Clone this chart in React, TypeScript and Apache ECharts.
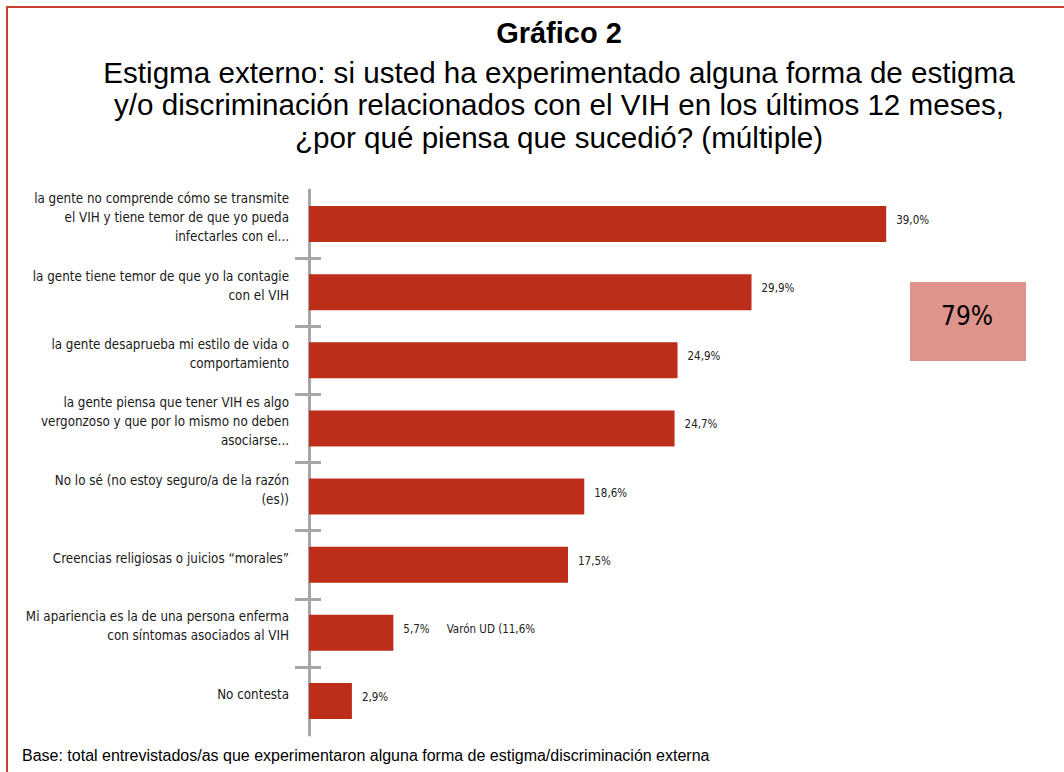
import React, { useEffect, useRef } from "react";
import * as echarts from "echarts";

const categories = [
  "la gente no comprende cómo se transmite\nel VIH y tiene temor de que yo pueda\ninfectarles con el...",
  "la gente tiene temor de que yo la contagie\ncon el VIH",
  "la gente desaprueba mi estilo de vida o\ncomportamiento",
  "la gente piensa que tener VIH es algo\nvergonzoso y que por lo mismo no deben\nasociarse...",
  "No lo sé (no estoy seguro/a de la razón\n(es))",
  "Creencias religiosas o juicios “morales”",
  "Mi apariencia es la de una persona enferma\ncon síntomas asociados al VIH",
  "No contesta",
];
const values = [39.0, 29.9, 24.9, 24.7, 18.6, 17.5, 5.7, 2.9];
const notes = ["", "", "", "", "", "", "Varón UD (11,6%", ""];

const titleMain = "Gráfico 2";
const titleLines = [
  "Estigma externo: si usted ha experimentado alguna forma de estigma",
  "y/o discriminación relacionados con el VIH en los últimos 12 meses,",
  "¿por qué piensa que sucedió? (múltiple)",
];
const boxText = "79%";
const footer =
  "Base: total entrevistados/as que experimentaron alguna forma de estigma/discriminación externa";

const NARROW = "'Liberation Sans Narrow', 'DejaVu Sans Condensed', 'Roboto Condensed', sans-serif";
const SANS = "'Liberation Sans', Arial, Helvetica, sans-serif";
const RED = "#bc2d1a";
const BORDER = "#c9402c";
const AXIS = "#a6a6a6";

export default function App() {
  const ref = useRef<HTMLDivElement>(null);
  useEffect(() => {
    document.body.style.margin = "0";
    const chart = echarts.init(ref.current!, null, { renderer: "svg" });
    const fmt = (v: number) => v.toFixed(1).replace(".", ",") + "%";
    chart.setOption({
      animation: false,
      backgroundColor: "#ffffff",
      grid: [
        { left: 309, top: 190, width: 740, height: 545, containLabel: false },
        { left: 295, top: 190, width: 26, height: 545, containLabel: false },
      ],
      xAxis: [
        { type: "value", gridIndex: 0, min: 0, max: 50, show: false },
        { type: "value", gridIndex: 1, min: 0, max: 1, show: false },
      ],
      yAxis: [
        {
          type: "category",
          gridIndex: 0,
          inverse: true,
          data: categories,
          axisLine: { show: true, lineStyle: { color: AXIS, width: 3 } },
          axisTick: { show: false },
          splitLine: { show: false },
          axisLabel: {
            margin: 20,
            align: "right",
            formatter: (v: string) =>
              v
                .split("\n")
                .map((l) => `{a|${l}}`)
                .join("\n") + "\n{s| }",
            rich: {
              a: {
                fontSize: 13.3,
                lineHeight: 19,
                color: "#1a1a1a",
                fontFamily: NARROW,
                align: "right",
              },
              s: { fontSize: 1, lineHeight: 13, align: "right" },
            },
          },
        },
        {
          type: "category",
          gridIndex: 1,
          inverse: true,
          data: categories,
          axisLine: { show: false },
          axisTick: { show: false },
          axisLabel: { show: false },
          splitLine: {
            show: true,
            showMinLine: false,
            showMaxLine: false,
            lineStyle: { color: AXIS, width: 3 },
          },
        },
      ],
      series: [
        {
          type: "bar",
          xAxisIndex: 0,
          yAxisIndex: 0,
          data: values,
          barWidth: 36,
          itemStyle: { color: RED },
          label: {
            show: true,
            position: "right",
            distance: 10,
            offset: [0, -4],
            formatter: (p: any) => {
              const n = notes[p.dataIndex];
              return n ? `{v|${fmt(p.value)}}{n|${n}}` : `{v|${fmt(p.value)}}`;
            },
            rich: {
              v: { fontSize: 11.5, color: "#222", fontFamily: NARROW },
              n: { fontSize: 11.5, color: "#222", fontFamily: NARROW, padding: [0, 0, 0, 17] },
            },
          },
        },
      ],
      graphic: [
        { type: "rect", shape: { x: 7, y: 6, width: 1064, height: 2 }, style: { fill: BORDER }, silent: true },
        { type: "rect", shape: { x: 6, y: 6, width: 2, height: 780 }, style: { fill: BORDER }, silent: true },
        {
          type: "text",
          x: 559,
          y: 33,
          style: {
            text: titleMain,
            font: `bold 29px ${SANS}`,
            fill: "#000",
            align: "center",
            verticalAlign: "middle",
          },
        },
        ...titleLines.map((t, i) => ({
          type: "text",
          x: 559,
          y: 72 + i * 32.5,
          style: {
            text: t,
            font: `29.6px ${SANS}`,
            fill: "#000",
            align: "center",
            verticalAlign: "middle",
          },
        })),
        { type: "rect", shape: { x: 910, y: 282, width: 116, height: 79 }, style: { fill: "#de948c" }, silent: true },
        {
          type: "text",
          x: 967,
          y: 316,
          style: {
            text: boxText,
            font: `26px ${NARROW}`,
            fill: "#000",
            align: "center",
            verticalAlign: "middle",
          },
        },
        {
          type: "text",
          x: 22,
          y: 755,
          style: {
            text: footer,
            font: `16px ${SANS}`,
            fill: "#000",
            align: "left",
            verticalAlign: "middle",
          },
        },
      ],
    });
    return () => chart.dispose();
  }, []);
  return <div ref={ref} style={{ width: 1064, height: 772 }} />;
}
